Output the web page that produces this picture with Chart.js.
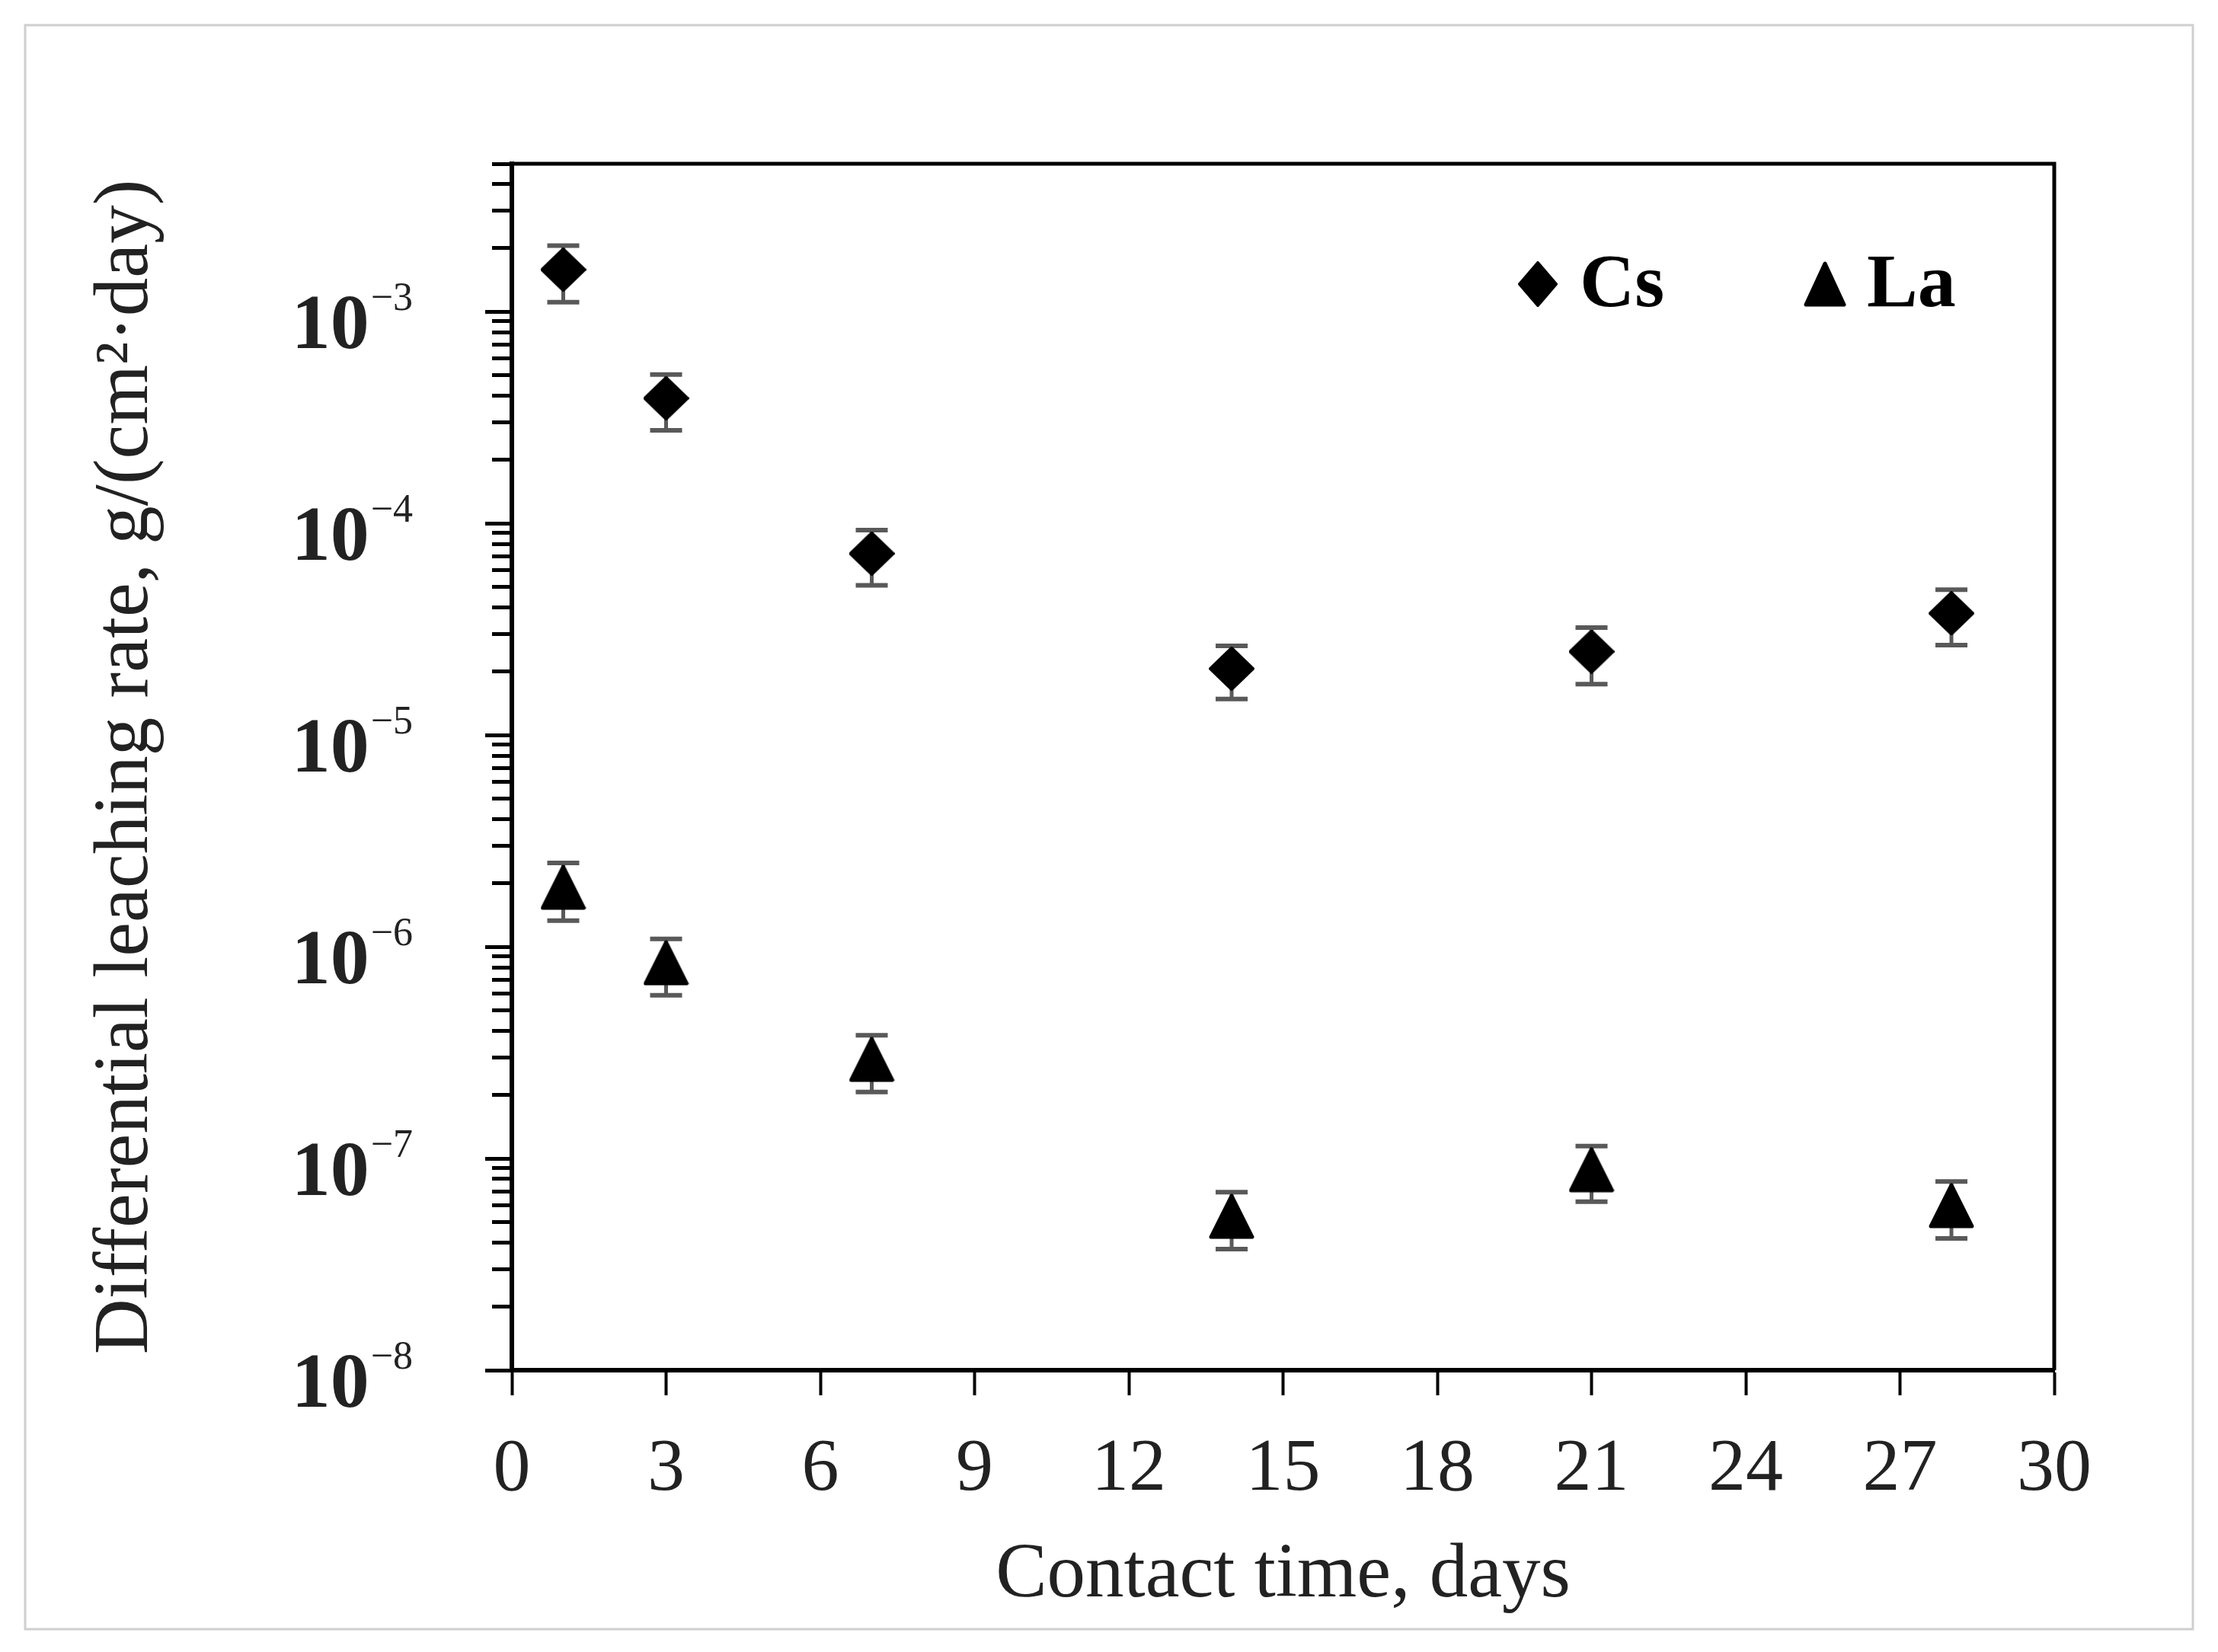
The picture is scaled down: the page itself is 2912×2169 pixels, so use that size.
<!DOCTYPE html>
<html>
<head>
<meta charset="utf-8">
<script src="https://cdn.jsdelivr.net/npm/chart.js@4/dist/chart.umd.min.js"></script>
<style>
  html, body { margin: 0; padding: 0; background: #fff; }
  #wrap { position: relative; width: 2912px; height: 2169px; }
</style>
</head>
<body>
<div id="wrap"><canvas id="c"></canvas></div>
<script>
// ---------------- data ----------------
const days = [1, 3, 7, 14, 21, 28];
const csValues = [1.58e-3, 3.9e-4, 7.2e-5, 2.06e-5, 2.48e-5, 3.76e-5];
const csErrors = [4.7e-4, 1.15e-4, 2.1e-5, 5.8e-6, 7.4e-6, 1.1e-5];
const laValues = [1.91e-6, 8.4e-7, 2.94e-7, 5.33e-8, 8.85e-8, 5.99e-8];
const laErrors = [5.8e-7, 2.5e-7, 8.8e-8, 1.6e-8, 2.6e-8, 1.8e-8];
const seriesNames = ['Cs', 'La'];
const xTickValues = [0, 3, 6, 9, 12, 15, 18, 21, 24, 27, 30];
const yDecades = [-8, -7, -6, -5, -4, -3];
const yMin = 1e-8;
const yMax = 5e-3;
const xTitle = 'Contact time, days';
const yTitle = 'Differential leaching rate, g/(cm\u00B2\u00B7day)';

// y minor/major tick values (1..9 per decade up to the axis max)
const yTickValues = [];
yDecades.forEach(e => {
  for (let m = 1; m <= 9; m++) {
    const v = Number((m * Math.pow(10, e)).toPrecision(3));
    if (v <= yMax) yTickValues.push(v);
  }
});

// ---------------- markers ----------------
function diamond(w, h) {
  const c = document.createElement('canvas');
  c.width = w; c.height = h;
  const g = c.getContext('2d');
  g.fillStyle = '#000'; g.strokeStyle = '#000'; g.lineWidth = 4; g.lineJoin = 'round';
  g.beginPath();
  g.moveTo(w / 2, 2); g.lineTo(w - 2, h / 2); g.lineTo(w / 2, h - 2); g.lineTo(2, h / 2);
  g.closePath(); g.fill(); g.stroke();
  return c;
}
function triangle(w, h) {
  const c = document.createElement('canvas');
  c.width = w; c.height = h;
  const g = c.getContext('2d');
  g.fillStyle = '#000'; g.strokeStyle = '#000'; g.lineWidth = 5; g.lineJoin = 'round';
  g.beginPath();
  g.moveTo(w / 2, 3); g.lineTo(w - 3, h - 3); g.lineTo(3, h - 3);
  g.closePath(); g.fill(); g.stroke();
  return c;
}
const csMarker = diamond(60, 58);
const laMarker = triangle(60, 60);
const csLegendMarker = diamond(52, 60);
const laLegendMarker = triangle(56, 60);

const FONT = '"Liberation Serif", "Times New Roman", serif';
const TEXT = '#222';

// ---------------- plugins ----------------
const errorBars = {
  id: 'errorBars',
  beforeDatasetsDraw(chart) {
    const { ctx, scales: { x, y } } = chart;
    ctx.save();
    ctx.strokeStyle = '#595959';
    chart.data.datasets.forEach(ds => {
      ds.data.forEach((p, i) => {
        const e = ds.errorValues[i];
        const px = x.getPixelForValue(p.x);
        const yt = y.getPixelForValue(p.y + e);
        const yb = y.getPixelForValue(p.y - e);
        ctx.lineWidth = 5;
        ctx.beginPath(); ctx.moveTo(px, yt); ctx.lineTo(px, yb); ctx.stroke();
        ctx.lineWidth = 6;
        ctx.beginPath();
        ctx.moveTo(px - 21, yt); ctx.lineTo(px + 21, yt);
        ctx.moveTo(px - 21, yb); ctx.lineTo(px + 21, yb);
        ctx.stroke();
      });
    });
    ctx.restore();
  }
};

const decor = {
  id: 'decor',
  beforeDraw(chart) {
    const ctx = chart.ctx;
    ctx.save();
    ctx.fillStyle = '#fff';
    ctx.fillRect(0, 0, chart.width, chart.height);
    ctx.strokeStyle = '#cfcfcf';
    ctx.lineWidth = 3;
    ctx.strokeRect(33, 33, chart.width - 33 - 33, chart.height - 33 - 30);
    ctx.restore();
  },
  afterDraw(chart) {
    const { ctx, chartArea: a, scales: { y } } = chart;
    ctx.save();
    // top and right frame
    ctx.strokeStyle = '#000';
    ctx.lineWidth = 5;
    ctx.beginPath();
    ctx.moveTo(a.left, a.top); ctx.lineTo(a.right, a.top); ctx.lineTo(a.right, a.bottom);
    ctx.stroke();
    // longer major ticks + y labels 10^n
    yDecades.forEach(e => {
      const py = Math.round(y.getPixelForValue(Math.pow(10, e))) + 0.5;
      ctx.lineWidth = 5;
      ctx.beginPath(); ctx.moveTo(a.left - 35, py); ctx.lineTo(a.left, py); ctx.stroke();
      const right = a.left - 130;
      ctx.fillStyle = TEXT;
      ctx.textAlign = 'right';
      ctx.textBaseline = 'alphabetic';
      ctx.font = '52px ' + FONT;
      const sup = '\u2212' + Math.abs(e);
      const supW = ctx.measureText(sup).width;
      ctx.fillText(sup, right, py - 3);
      ctx.font = 'bold 102px ' + FONT;
      ctx.fillText('10', right - supW - 2, py + 47);
    });
    // legend
    const markers = [csLegendMarker, laLegendMarker];
    const offs = [-678, -301];
    const ly = a.top + 158;
    chart.data.datasets.forEach((ds, i) => {
      const mx = a.right + offs[i];
      const m = markers[i];
      ctx.drawImage(m, mx - m.width / 2, ly - m.height / 2);
      ctx.fillStyle = '#000';
      ctx.textAlign = 'left';
      ctx.textBaseline = 'alphabetic';
      ctx.font = 'bold 100px ' + FONT;
      ctx.fillText(ds.label, mx + 55, ly + 29);
    });
    ctx.restore();
  }
};

// ---------------- chart ----------------
new Chart(document.getElementById('c'), {
  type: 'scatter',
  data: {
    datasets: [
      {
        label: seriesNames[0],
        data: days.map((d, i) => ({ x: d, y: csValues[i] })),
        errorValues: csErrors,
        pointStyle: csMarker,
        pointRadius: 30,
        pointHoverRadius: 30,
        showLine: false
      },
      {
        label: seriesNames[1],
        data: days.map((d, i) => ({ x: d, y: laValues[i] })),
        errorValues: laErrors,
        pointStyle: laMarker,
        pointRadius: 30,
        pointHoverRadius: 30,
        showLine: false
      }
    ]
  },
  options: {
    responsive: true,
    maintainAspectRatio: false,
    animation: false,
    devicePixelRatio: 1,
    layout: { padding: { top: 215, right: 215, left: 0, bottom: 0 } },
    plugins: { legend: { display: false }, tooltip: { enabled: false } },
    scales: {
      x: {
        type: 'linear', position: 'bottom', min: 0, max: 30,
        afterBuildTicks: s => { s.ticks = xTickValues.map(v => ({ value: v })); },
        afterFit: s => { s.height = 370; },
        ticks: { font: { family: FONT, size: 98 }, color: TEXT, padding: 39, maxRotation: 0, minRotation: 0, autoSkip: false },
        grid: { drawOnChartArea: false, drawTicks: true, tickLength: 33, tickWidth: 4, tickColor: '#000' },
        border: { display: true, color: '#000', width: 6 },
        title: { display: true, text: xTitle, color: TEXT, font: { family: FONT, size: 101 }, padding: { top: 0, bottom: 39 } }
      },
      y: {
        type: 'logarithmic', position: 'left', min: yMin, max: yMax, bounds: 'data',
        afterBuildTicks: s => { s.ticks = yTickValues.map(v => ({ value: v })); },
        afterFit: s => { s.width = 672; },
        ticks: { display: false },
        grid: { drawOnChartArea: false, drawTicks: true, tickLength: 26, tickWidth: 5, tickColor: '#000' },
        border: { display: true, color: '#000', width: 6 },
        title: { display: true, text: yTitle, color: TEXT, font: { family: FONT, size: 101 }, padding: { top: 106, bottom: 0 } }
      }
    }
  },
  plugins: [errorBars, decor]
});
</script>
</body>
</html>
